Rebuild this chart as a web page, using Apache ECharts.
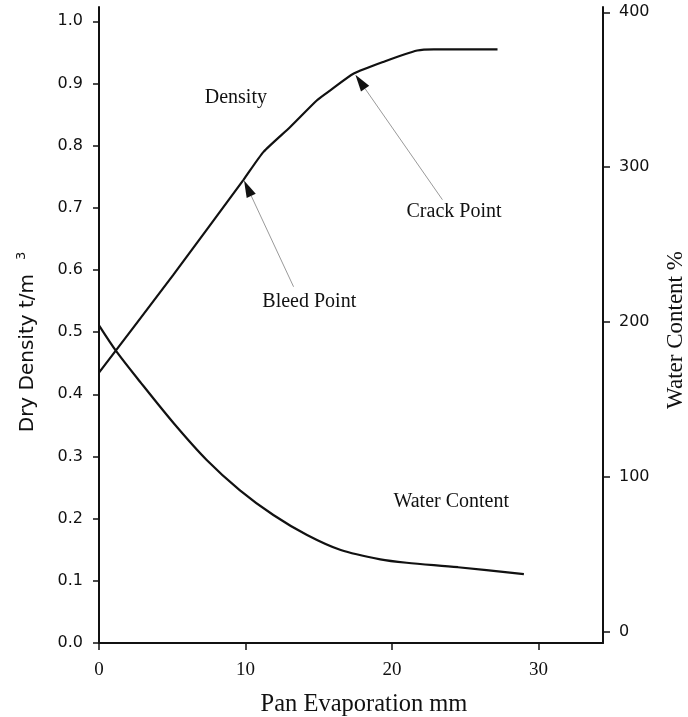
<!DOCTYPE html>
<html>
<head>
<meta charset="utf-8">
<script src="https://cdn.jsdelivr.net/npm/echarts@6/dist/echarts.min.js"></script>
<style>
  html, body { margin: 0; padding: 0; background: #ffffff; }
  #chart { width: 688px; height: 717px; }
</style>
</head>
<body>
<div id="chart"></div>
<script>
// Dry density (t/m3) against pan evaporation (mm)
const densityX = [0, 5.07, 9.86, 11.23, 13.05, 14.88, 15.79, 17.39, 19.44, 21.72, 22.86, 27.2];
const densityY = [0.435, 0.592, 0.745, 0.790, 0.830, 0.873, 0.889, 0.916, 0.935, 0.953, 0.955, 0.955];

// Water content (%) against pan evaporation (mm)
const waterX = [0, 1.2, 2.8, 5.1, 7.35, 9.6, 11.9, 14.2, 16.5, 19.2, 21.0, 24.5, 29.0];
const waterY = [198, 181, 161.6, 134.8, 111.1, 91.7, 75.6, 62.7, 53.0, 47.0, 44.8, 41.9, 37.4];

// Tick labels
const xTicks = [0, 10, 20, 30];
const densityTicks = [0, 0.1, 0.2, 0.3, 0.4, 0.5, 0.6, 0.7, 0.8, 0.9, 1.0];
const waterTicks = [0, 100, 200, 300, 400];

// Arrows on the density scale: tail x, tail y, tip x, tip y
const arrowTailX = [13.28, 23.44];
const arrowTailY = [0.573, 0.713];
const arrowTipX = [9.90, 17.50];
const arrowTipY = [0.744, 0.914];

// Notes placed on the density scale
const noteTexts = ['Density', 'Bleed Point', 'Crack Point'];
const noteX = [9.34, 14.35, 24.23];
const noteY = [0.877, 0.549, 0.693];

// Note placed on the water content scale
const waterNoteTexts = ['Water Content'];
const waterNoteX = [24.04];
const waterNoteY = [84];

const ink = '#111111';
const serif = '"Liberation Serif", "Times New Roman", serif';
const sans = '"DejaVu Sans", Verdana, sans-serif';

const zip = (xs, ys) => xs.map((x, i) => [x, ys[i]]);

const chart = echarts.init(document.getElementById('chart'), null, { renderer: 'canvas' });

function renderNote(texts) {
  return function (params, api) {
    const p = api.coord([api.value(0), api.value(1)]);
    return {
      type: 'text',
      x: p[0],
      y: p[1],
      style: {
        text: texts[params.dataIndex],
        font: '20px ' + serif,
        fill: ink,
        align: 'center',
        verticalAlign: 'middle'
      }
    };
  };
}

function renderArrow(params, api) {
  const tail = api.coord([api.value(0), api.value(1)]);
  const tip = api.coord([api.value(2), api.value(3)]);
  const dx = tip[0] - tail[0];
  const dy = tip[1] - tail[1];
  const len = Math.hypot(dx, dy) || 1;
  const ux = dx / len, uy = dy / len;
  const headLen = 17, headHalf = 5;
  const bx = tip[0] - ux * headLen;
  const by = tip[1] - uy * headLen;
  return {
    type: 'group',
    children: [
      {
        type: 'line',
        shape: { x1: tail[0], y1: tail[1], x2: bx, y2: by },
        style: { stroke: '#9a9a9a', lineWidth: 1 }
      },
      {
        type: 'polygon',
        shape: {
          points: [
            [tip[0], tip[1]],
            [bx - uy * headHalf, by + ux * headHalf],
            [bx + uy * headHalf, by - ux * headHalf]
          ]
        },
        style: { fill: ink }
      }
    ]
  };
}

const axisLineStyle = { show: true, onZero: false, lineStyle: { color: ink, width: 2 } };

chart.setOption({
  animation: false,
  backgroundColor: '#ffffff',
  grid: { left: 99, right: 85, top: 7, bottom: 74, containLabel: false, outerBoundsMode: 'none' },
  xAxis: {
    type: 'value',
    min: 0,
    max: 34.4,
    interval: 10,
    name: 'Pan Evaporation mm',
    nameLocation: 'middle',
    nameGap: 49,
    nameTextStyle: { fontFamily: serif, fontSize: 24.5, color: ink, padding: [0, 0, 0, 26] },
    axisLine: axisLineStyle,
    axisTick: { show: true, length: 7, customValues: xTicks, lineStyle: { color: ink, width: 1.5 } },
    axisLabel: { customValues: xTicks, margin: 18, fontFamily: serif, fontSize: 19, color: ink },
    splitLine: { show: false }
  },
  yAxis: [
    {
      type: 'value',
      position: 'left',
      min: 0,
      max: 1.023,
      name: '{a|Dry Density t/m}{s|3}',
      nameLocation: 'middle',
      nameGap: 58,
      nameTextStyle: {
        padding: [0, 34, 0, 0],
        rich: {
          a: { fontFamily: sans, fontSize: 20, color: ink, lineHeight: 26 },
          s: { fontFamily: sans, fontSize: 13, color: ink, verticalAlign: 'top', lineHeight: 13, padding: [0, 0, 0, 14] }
        }
      },
      axisLine: axisLineStyle,
      axisTick: { show: true, length: 6, customValues: densityTicks, lineStyle: { color: ink, width: 1.5 } },
      axisLabel: {
        customValues: densityTicks,
        margin: 16,
        fontFamily: sans,
        fontSize: 16,
        color: ink,
        formatter: (v) => Number(v).toFixed(1)
      },
      splitLine: { show: false }
    },
    {
      type: 'value',
      position: 'right',
      min: -7,
      max: 403.4,
      name: 'Water Content %',
      nameLocation: 'middle',
      nameGap: 61,
      nameTextStyle: { fontFamily: serif, fontSize: 23, color: ink, padding: [0, 10, 0, 0] },
      axisLine: axisLineStyle,
      axisTick: { show: true, length: 7, customValues: waterTicks, lineStyle: { color: ink, width: 1.5 } },
      axisLabel: { customValues: waterTicks, margin: 16, fontFamily: sans, fontSize: 16, color: ink },
      splitLine: { show: false }
    }
  ],
  series: [
    {
      name: 'Density',
      type: 'line',
      yAxisIndex: 0,
      data: zip(densityX, densityY),
      showSymbol: false,
      smooth: 0.2,
      lineStyle: { color: ink, width: 2.2 },
      z: 3
    },
    {
      name: 'Water Content',
      type: 'line',
      yAxisIndex: 1,
      data: zip(waterX, waterY),
      showSymbol: false,
      smooth: 0.3,
      lineStyle: { color: ink, width: 2.2 },
      z: 3
    },
    {
      name: 'Arrows',
      type: 'custom',
      yAxisIndex: 0,
      clip: false,
      renderItem: renderArrow,
      encode: { x: [0, 2], y: [1, 3] },
      data: arrowTailX.map((x, i) => [x, arrowTailY[i], arrowTipX[i], arrowTipY[i]]),
      z: 4
    },
    {
      name: 'Notes',
      type: 'custom',
      yAxisIndex: 0,
      clip: false,
      renderItem: renderNote(noteTexts),
      data: zip(noteX, noteY),
      z: 4
    },
    {
      name: 'Water Note',
      type: 'custom',
      yAxisIndex: 1,
      clip: false,
      renderItem: renderNote(waterNoteTexts),
      data: zip(waterNoteX, waterNoteY),
      z: 4
    }
  ]
});
</script>
</body>
</html>
